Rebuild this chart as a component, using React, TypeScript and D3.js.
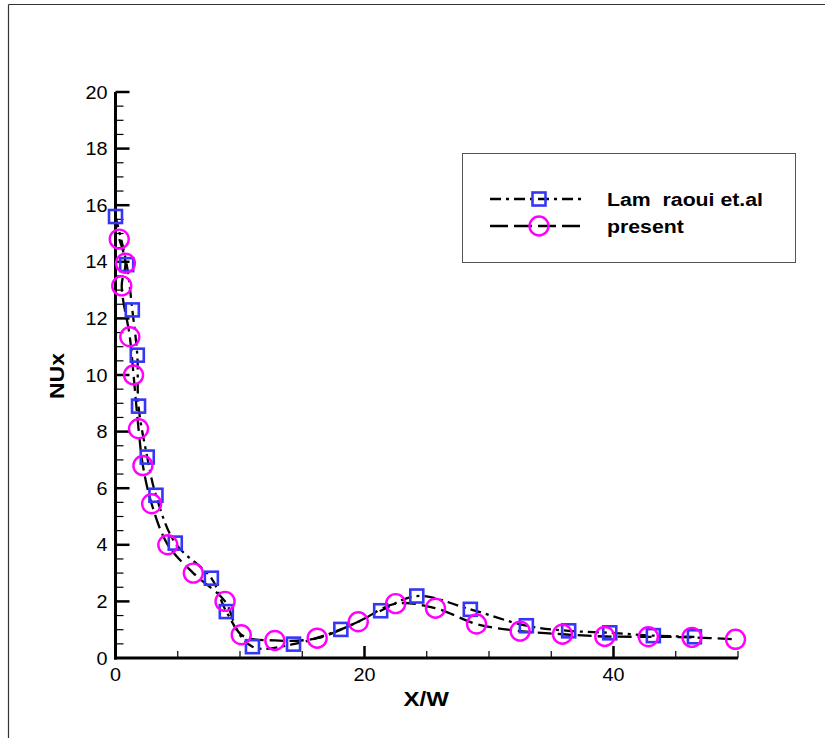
import React from "react";
import * as d3 from "d3";

// Lam raoui et.al (blue squares)
const lamX = [0.0, 0.9, 1.35, 1.75, 1.85, 2.55, 3.25, 4.8, 7.7, 8.9, 11.0, 14.3, 18.1, 21.3, 24.2, 28.5, 33.0, 36.4, 39.7, 43.2, 46.5];
const lamY = [15.6, 13.9, 12.3, 10.7, 8.9, 7.1, 5.75, 4.06, 2.82, 1.64, 0.4, 0.49, 1.01, 1.67, 2.19, 1.72, 1.14, 0.96, 0.89, 0.79, 0.75];
// present (magenta circles)
const presX = [0.3, 0.8, 0.5, 1.15, 1.45, 1.85, 2.2, 2.9, 4.2, 6.25, 8.8, 10.1, 12.8, 16.2, 19.5, 22.5, 25.7, 29.0, 32.5, 35.9, 39.3, 42.8, 46.3, 49.8];
const presY = [14.8, 13.95, 13.15, 11.35, 10.0, 8.1, 6.8, 5.45, 4.0, 3.0, 2.0, 0.82, 0.62, 0.7, 1.28, 1.92, 1.76, 1.2, 0.95, 0.84, 0.76, 0.75, 0.73, 0.66];

const xMajor = [0, 20, 40];
const yMajor = [0, 2, 4, 6, 8, 10, 12, 14, 16, 18, 20];
const seriesNames = ["Lam  raoui et.al", "present"];

const W = 825, H = 738;
const x = d3.scaleLinear().domain([0, 50]).range([115.5, 738]);
const y = d3.scaleLinear().domain([0, 20]).range([658, 92]);

const BLUE = "#3636f6";
const MAG = "#ff00ff";
const FONT = "'Liberation Sans', Arial, Helvetica, sans-serif";
const SX = 1.1;

export default function App() {
  const lam = lamX.map((v, i) => [v, lamY[i]] as [number, number]);
  const pres = presX.map((v, i) => [v, presY[i]] as [number, number]);
  const line = d3
    .line<[number, number]>()
    .x((d) => x(d[0]))
    .y((d) => y(d[1]))
    .curve(d3.curveCatmullRom.alpha(0.5));

  const xMinor = d3.range(5, 50.001, 5).filter((v) => !xMajor.includes(v));
  const yMinor = d3.range(0.5, 20, 0.5).filter((v) => !yMajor.includes(v));

  const sq = 13;
  const R = 9.5;
  const legX0 = 490, legX1 = 585, legM = 539;
  const legY1 = 199, legY2 = 226;
  const dashDot = "11,5,3,5";
  const dash = "14,6";

  return (
    <svg
      width={W}
      height={H}
      style={{ position: "absolute", left: 0, top: 0, display: "block", background: "#fff" }}
    >
      {/* outer frame */}
      <line x1={8.5} y1={4.5} x2={W} y2={4.5} stroke="#333" strokeWidth={1.2} />
      <line x1={8.5} y1={4.5} x2={8.5} y2={H} stroke="#333" strokeWidth={1.2} />

      {/* axes */}
      <line x1={x(0)} y1={y(0) + 1.5} x2={x(0)} y2={y(20)} stroke="#000" strokeWidth={3} />
      <line x1={x(0) - 1.5} y1={y(0)} x2={x(50)} y2={y(0)} stroke="#000" strokeWidth={3} />
      {xMajor.filter((v) => v > 0).map((v) => (
        <line key={"xM" + v} x1={x(v)} x2={x(v)} y1={y(0)} y2={y(0) - 12} stroke="#000" strokeWidth={2.5} />
      ))}
      {xMinor.map((v) => (
        <line key={"xm" + v} x1={x(v)} x2={x(v)} y1={y(0)} y2={y(0) - 7} stroke="#000" strokeWidth={1.2} />
      ))}
      {yMajor.filter((v) => v > 0).map((v) => (
        <line key={"yM" + v} x1={x(0)} x2={x(0) + 14} y1={y(v)} y2={y(v)} stroke="#000" strokeWidth={2.5} />
      ))}
      {yMinor.map((v) => (
        <line key={"ym" + v} x1={x(0)} x2={x(0) + 8} y1={y(v)} y2={y(v)} stroke="#000" strokeWidth={1.2} />
      ))}

      {/* tick labels */}
      {xMajor.map((v) => (
        <g key={"xl" + v} transform={`translate(${x(v)},${y(0) + 23}) scale(${SX},1)`}>
          <text textAnchor="middle" fontFamily={FONT} fontSize={18} fill="#000">{v}</text>
        </g>
      ))}
      {yMajor.map((v) => (
        <g key={"yl" + v} transform={`translate(${x(0) - 8},${y(v) + 6.5}) scale(${SX},1)`}>
          <text textAnchor="end" fontFamily={FONT} fontSize={18} fill="#000">{v}</text>
        </g>
      ))}

      {/* axis titles */}
      <g transform={`translate(${x(25) - 0.5},${706}) scale(1.2,1)`}>
        <text textAnchor="middle" fontFamily={FONT} fontWeight="bold" fontSize={20} fill="#000">X/W</text>
      </g>
      <g transform={`translate(64,${y(10) + 1}) rotate(-90) scale(1.15,1)`}>
        <text textAnchor="middle" fontFamily={FONT} fontWeight="bold" fontSize={20} fill="#000">NUx</text>
      </g>

      {/* lines */}
      <path d={line(lam) || ""} fill="none" stroke="#000" strokeWidth={2.3} strokeDasharray={dashDot} />
      <path d={line(pres) || ""} fill="none" stroke="#000" strokeWidth={2.3} strokeDasharray={dash} />

      {/* markers */}
      {lam.map((d, i) => (
        <rect key={"s" + i} x={x(d[0]) - sq / 2} y={y(d[1]) - sq / 2} width={sq} height={sq} fill="none" stroke={BLUE} strokeWidth={2.6} />
      ))}
      {pres.map((d, i) => (
        <circle key={"c" + i} cx={x(d[0])} cy={y(d[1])} r={R} fill="none" stroke={MAG} strokeWidth={2.4} />
      ))}

      {/* legend */}
      <rect x={462.5} y={153.5} width={333} height={109} fill="#fff" stroke="#555" strokeWidth={1} />
      <line x1={legX0} x2={legX1} y1={legY1} y2={legY1} stroke="#000" strokeWidth={2.3} strokeDasharray={dashDot} />
      <rect x={legM - sq / 2} y={legY1 - sq / 2} width={sq} height={sq} fill="none" stroke={BLUE} strokeWidth={2.6} />
      <line x1={legX0} x2={legX1} y1={legY2} y2={legY2} stroke="#000" strokeWidth={2.3} strokeDasharray="18,6" />
      <circle cx={legM} cy={legY2} r={R} fill="none" stroke={MAG} strokeWidth={2.4} />
      <g transform={`translate(607,${legY1 + 7}) scale(1.12,1)`}>
        <text fontFamily={FONT} fontWeight="bold" fontSize={19} fill="#000" style={{ whiteSpace: "pre" }}>{seriesNames[0]}</text>
      </g>
      <g transform={`translate(607,${legY2 + 7}) scale(1.12,1)`}>
        <text fontFamily={FONT} fontWeight="bold" fontSize={19} fill="#000">{seriesNames[1]}</text>
      </g>
    </svg>
  );
}
